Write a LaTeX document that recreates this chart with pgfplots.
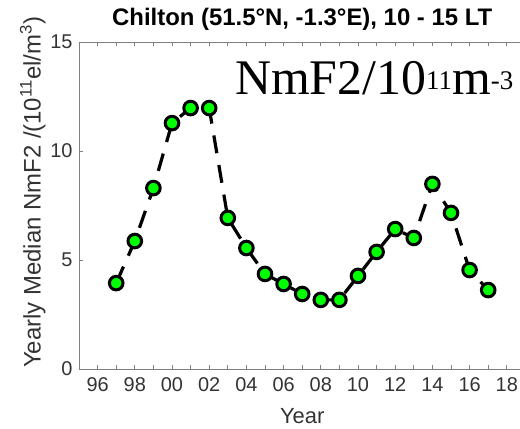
\documentclass[border=0pt]{standalone}
\usepackage{fontspec}
\setmainfont{Liberation Sans}
\newfontfamily\timesfont{Liberation Serif}
\usepackage{pgfplots}
\pgfplotsset{compat=1.18}
\begin{document}
\begin{tikzpicture}
\begin{axis}[
 at={(0,0)}, anchor=south west, scale only axis,
 width=446.4bp, height=327bp,
 xmin=1995, xmax=2019, ymin=0, ymax=15,
 xtick={1996,1998,...,2018},
 xticklabels={96,98,00,02,04,06,08,10,12,14,16,18},
 minor xtick={1995,1997,...,2019},
 ytick={0,5,10,15},
 tick align=inside,
 major tick length=4bp, minor tick length=4bp,
 axis line style={black!50, line width=0.8bp},
 every tick/.style={black!50, line width=0.8bp},
 every minor tick/.style={black!50, line width=0.8bp},
 tick label style={font=\fontsize{20}{20}\selectfont, text=black!80},
 xticklabel style={yshift=-5bp},
 yticklabel style={xshift=-3bp},
 /pgf/number format/assume math mode=true,
 xlabel={Year},
 xlabel style={at={(axis description cs:0.5,0)}, anchor=base, yshift=-54bp, font=\fontsize{22}{22}\selectfont, text=black!80},
 ylabel={Yearly Median NmF2 /(10\textsuperscript{11}el/m\textsuperscript{3})},
 ylabel style={at={(axis description cs:-0.086,0.54)}, anchor=base, font=\fontsize{24}{24}\selectfont, text=black!80},
 title={Chilton (51.5°N, -1.3°E), 10 - 15 LT},
 title style={at={(axis description cs:0.5,1)}, anchor=base, yshift=10.5bp, font=\bfseries\fontsize{24}{24}\selectfont},
]
\addplot[black, line width=3.2bp, dash pattern=on 18bp off 12bp, mark=*, mark size=6.8bp,
  mark options={solid, fill=green, draw=black, line width=3bp}] coordinates {
(1997,3.94) (1998,5.87) (1999,8.30) (2000,11.28) (2001,11.97) (2002,11.97)
(2003,6.93) (2004,5.55) (2005,4.36) (2006,3.90) (2007,3.44) (2008,3.17)
(2009,3.17) (2010,4.27) (2011,5.37) (2012,6.42) (2013,6.01) (2014,8.49)
(2015,7.16) (2016,4.54) (2017,3.62)
};
\node[anchor=base west, inner sep=0, font=\timesfont\fontsize{50}{50}\selectfont] at (axis cs:2003.39,12.57)
 {NmF2/10\raisebox{5bp}{\fontsize{27}{27}\selectfont 11}m\raisebox{5bp}{\fontsize{27}{27}\selectfont -3}};
\end{axis}
\pgfresetboundingbox
\useasboundingbox (-79bp,-60bp) rectangle (441bp,369bp);
\end{tikzpicture}
\end{document}
